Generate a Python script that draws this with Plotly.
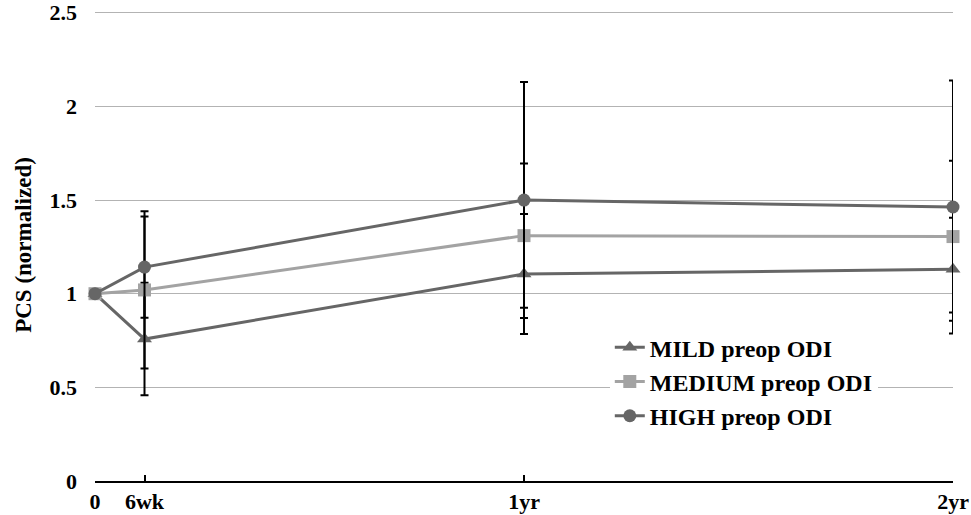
import plotly.graph_objects as go

# Data
x_weeks = [0, 6, 52, 104]
tick_labels = ["0", "6wk", "1yr", "2yr"]

mild = [1.0, 0.758, 1.105, 1.13]
mild_err = [0, 0.30, 0.32, 0.275]
medium = [1.0, 1.02, 1.31, 1.305]
medium_err = [0, 0.42, 0.385, 0.405]
high = [1.0, 1.142, 1.50, 1.463]
high_err = [0, 0.27, 0.63, 0.675]

series_names = ["MILD preop ODI", "MEDIUM preop ODI", "HIGH preop ODI"]
y_ticks = [0, 0.5, 1, 1.5, 2, 2.5]
y_tick_text = ["0", "0.5", "1", "1.5", "2", "2.5"]

DARK = "#666666"
LIGHT = "#a3a3a3"
FONT = "Liberation Serif"

fig = go.Figure()
specs = [
    (series_names[0], mild, mild_err, DARK, "triangle-up"),
    (series_names[1], medium, medium_err, LIGHT, "square"),
    (series_names[2], high, high_err, DARK, "circle"),
]
for name, ys, errs, color, sym in specs:
    fig.add_trace(go.Scatter(
        x=x_weeks, y=ys, name=name, mode="lines+markers",
        line=dict(color=color, width=3),
        marker=dict(symbol=sym, size=13, color=color),
        error_y=dict(type="data", array=errs, visible=True, color="black",
                     thickness=2, width=4),
        cliponaxis=False,
    ))

fig.update_layout(
    width=971, height=515,
    margin=dict(l=95, r=18, t=9, b=34),
    paper_bgcolor="white", plot_bgcolor="white",
    font=dict(family=FONT, color="black", size=22),
    showlegend=True,
    legend=dict(
        x=0.6, y=0.33, xanchor="left", yanchor="top",
        bgcolor="white", borderwidth=0,
        font=dict(family=FONT, size=24, color="black", weight="bold"),
        tracegroupgap=0,
    ),
    xaxis=dict(
        range=[0, 104], tickmode="array", tickvals=x_weeks, ticktext=tick_labels,
        showgrid=False, zeroline=False, showline=True, linecolor="black", linewidth=2,
        ticks="inside", ticklen=6, tickwidth=1.5, tickcolor="black",
        automargin=False, ticklabeloverflow="allow",
        tickfont=dict(family=FONT, size=22, color="black", weight="bold"),
    ),
    yaxis=dict(
        range=[0, 2.52], tickmode="array", tickvals=y_ticks, ticktext=y_tick_text,
        showgrid=True, gridcolor="#b3b3b3", gridwidth=1.2,
        zeroline=False, showline=False, ticks="", ticklabelstandoff=17,
        automargin=False, ticklabeloverflow="allow",
        tickfont=dict(family=FONT, size=22, color="black", weight="bold"),
        title=dict(text="PCS (normalized)", standoff=11,
                   font=dict(family=FONT, size=23, color="black", weight="bold")),
    ),
)

fig.write_html("out.html", config={"displayModeBar": False},
               post_script="document.body.style.margin='0';")
